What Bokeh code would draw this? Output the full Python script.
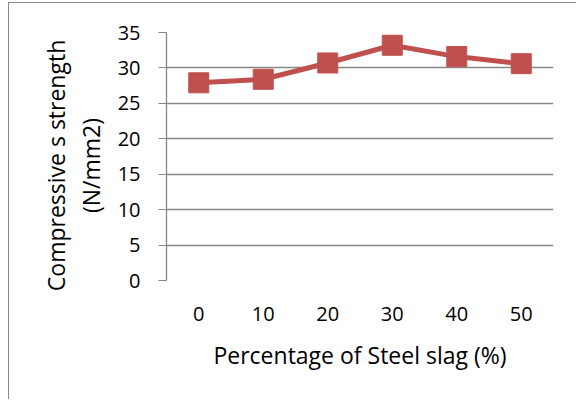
from bokeh.plotting import figure
from bokeh.models import FactorRange, Range1d, LinearAxis
from bokeh.embed import file_html
from bokeh.resources import INLINE

categories = ["0", "10", "20", "30", "40", "50"]
strength = [27.9, 28.4, 30.7, 33.2, 31.6, 30.6]
y_ticks = [0, 5, 10, 15, 20, 25, 30, 35]

FONT = "Open Sans"
GRID = "#878787"
RED = "#C0504D"
PAD = "\u00a0" * 3

p = figure(width=568, height=397, x_range=FactorRange(*categories),
           y_range=Range1d(0, 35), output_backend="svg", toolbar_location=None,
           min_border_left=157, min_border_right=24, min_border_top=29,
           min_border_bottom=120)
p.styles = {"margin-left": "8px", "margin-top": "2px",
            "border-left": "1px solid #878787", "border-top": "1px solid #878787"}
p.outline_line_color = None
p.background_fill_color = "white"

p.line(categories, strength, line_color=RED, line_width=5)
p.scatter(categories, strength, marker="square", size=20,
          fill_color=RED, line_color=RED)

p.yaxis.ticker = y_ticks
p.ygrid.grid_line_color = GRID
p.ygrid.grid_line_width = 1.3
p.xgrid.grid_line_color = None
p.yaxis.axis_line_color = GRID
p.yaxis.axis_line_width = 1.3
p.yaxis.major_tick_line_color = GRID
p.yaxis.major_tick_out = 8
p.yaxis.major_tick_in = 0
p.yaxis.minor_tick_line_color = None
p.yaxis.major_label_standoff = 18
p.yaxis.major_label_text_font = FONT
p.yaxis.major_label_text_font_size = "20px"
p.yaxis.major_label_text_color = "black"
p.yaxis.axis_label = "(N/mm2)" + PAD
p.yaxis.axis_label_text_font = FONT
p.yaxis.axis_label_text_font_size = "23px"
p.yaxis.axis_label_text_font_style = "normal"
p.yaxis.axis_label_text_color = "black"
p.yaxis.axis_label_standoff = 8

outer = LinearAxis(axis_label="Compressive s strength" + PAD, ticker=[],
                   axis_line_color=None, major_tick_line_color=None,
                   minor_tick_line_color=None, major_label_text_font_size="0px",
                   axis_label_text_font=FONT, axis_label_text_font_size="23px",
                   axis_label_text_font_style="normal",
                   axis_label_text_color="black", axis_label_standoff=0)
p.add_layout(outer, "left")

p.xaxis.axis_line_color = None
p.xaxis.major_tick_line_color = None
p.xaxis.major_label_standoff = 20
p.xaxis.major_label_text_font = FONT
p.xaxis.major_label_text_font_size = "20px"
p.xaxis.major_label_text_color = "black"
p.xaxis.axis_label = "Percentage of Steel slag (%)"
p.xaxis.axis_label_text_font = FONT
p.xaxis.axis_label_text_font_size = "23px"
p.xaxis.axis_label_text_font_style = "normal"
p.xaxis.axis_label_text_color = "black"
p.xaxis.axis_label_standoff = 15

open("out.html", "w").write(file_html(p, INLINE))
